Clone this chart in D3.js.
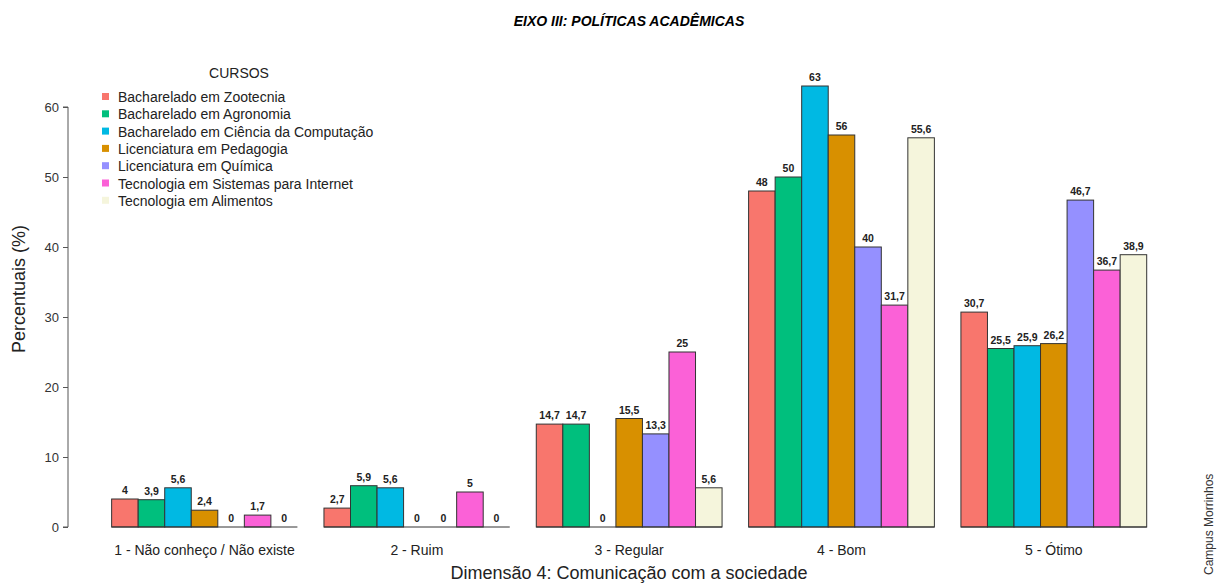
<!DOCTYPE html>
<html><head><meta charset="utf-8">
<script src="https://cdn.jsdelivr.net/npm/d3@7"></script>
<style>body{margin:0;background:#fff;} svg{display:block;}</style>
</head><body>
<svg id="chart" width="1217" height="584"></svg>
<script>
const categories = ["1 - Não conheço / Não existe", "2 - Ruim", "3 - Regular", "4 - Bom", "5 - Ótimo"];
const courses = ["Bacharelado em Zootecnia", "Bacharelado em Agronomia", "Bacharelado em Ciência da Computação",
  "Licenciatura em Pedagogia", "Licenciatura em Química", "Tecnologia em Sistemas para Internet", "Tecnologia em Alimentos"];
const colors = ["#F8766D", "#00BF7D", "#00B9E3", "#D89000", "#9590FF", "#FB61D7", "#F5F5DC"];
const zootecnia = [4, 2.7, 14.7, 48, 30.7];
const agronomia = [3.9, 5.9, 14.7, 50, 25.5];
const computacao = [5.6, 5.6, 0, 63, 25.9];
const pedagogia = [2.4, 0, 15.5, 56, 26.2];
const quimica = [0, 0, 13.3, 40, 46.7];
const internet = [1.7, 5, 25, 31.7, 36.7];
const alimentos = [0, 0, 5.6, 55.6, 38.9];
const series = [zootecnia, agronomia, computacao, pedagogia, quimica, internet, alimentos];
const yTicks = [0, 10, 20, 30, 40, 50, 60];

const svg = d3.select("#chart");
const font = "'Liberation Sans', Arial, sans-serif";
const x = d3.scaleLinear().domain([0, 40]).range([85.1, 1146.7]);
const y = d3.scaleLinear().domain([0, 60]).range([527, 107]);
const nC = courses.length;

// title
svg.append("text").attr("x", 629).attr("y", 26).attr("text-anchor", "middle")
  .style("font-family", font).style("font-size", "14px").style("font-weight", "bold").style("font-style", "italic")
  .text("EIXO III: POLÍTICAS ACADÊMICAS");

// y axis
const yAxis = d3.axisLeft(y).tickValues(yTicks).tickSize(5).tickPadding(4).tickFormat(d3.format("d"));
const ga = svg.append("g").attr("transform", "translate(68,0)").call(yAxis);
ga.select(".domain").attr("stroke", "#555").attr("d", `M-5,${y(60)}H0V${y(0)}H-5`);
ga.selectAll(".tick line").attr("stroke", "#555");
ga.selectAll(".tick text").style("font-family", font).style("font-size", "13px").attr("fill", "#333");

svg.append("text").attr("transform", "translate(25,289) rotate(-90)").attr("text-anchor", "middle")
  .style("font-family", font).style("font-size", "18px").attr("fill", "#222").text("Percentuais (%)");

// bars
categories.forEach((cat, gi) => {
  const g0 = gi * (nC + 1) + 1;
  const g = svg.append("g");
  series.forEach((vals, si) => {
    const v = vals[gi];
    const x0 = x(g0 + si), x1 = x(g0 + si + 1);
    if (v > 0) {
      g.append("rect").attr("x", x0).attr("y", y(v)).attr("width", x1 - x0).attr("height", y(0) - y(v))
        .attr("fill", colors[si]).attr("stroke", "#333").attr("stroke-width", 1);
    }
    g.append("text").attr("x", (x0 + x1) / 2).attr("y", y(v) - 5).attr("text-anchor", "middle")
      .style("font-family", "'Liberation Sans Narrow', 'Arial Narrow', " + font).style("font-size", "10.5px").style("font-weight", "bold")
      .attr("fill", "#222").text(String(v).replace(".", ","));
  });
  g.append("line").attr("x1", x(g0)).attr("x2", x(g0 + nC)).attr("y1", y(0)).attr("y2", y(0)).attr("stroke", "#333");
  svg.append("text").attr("x", x(g0 + nC / 2)).attr("y", 555).attr("text-anchor", "middle")
    .style("font-family", font).style("font-size", "14px").attr("fill", "#222").text(cat);
});

svg.append("text").attr("x", 629).attr("y", 579).attr("text-anchor", "middle")
  .style("font-family", font).style("font-size", "18px").attr("fill", "#222").text("Dimensão 4: Comunicação com a sociedade");

svg.append("text").attr("transform", "translate(1213,575) rotate(-90)").attr("text-anchor", "start")
  .style("font-family", font).style("font-size", "12px").attr("fill", "#333").text("Campus Morrinhos");

// legend
svg.append("text").attr("x", 239).attr("y", 78).attr("text-anchor", "middle")
  .style("font-family", font).style("font-size", "14px").attr("fill", "#222").text("CURSOS");
courses.forEach((c, i) => {
  const ly = 97 + i * 17.3;
  svg.append("rect").attr("x", 102).attr("y", ly - 4).attr("width", 7).attr("height", 7).attr("fill", colors[i]);
  svg.append("text").attr("x", 118).attr("y", ly + 5)
    .style("font-family", font).style("font-size", "14px").attr("fill", "#222").text(c);
});
</script>
</body></html>
